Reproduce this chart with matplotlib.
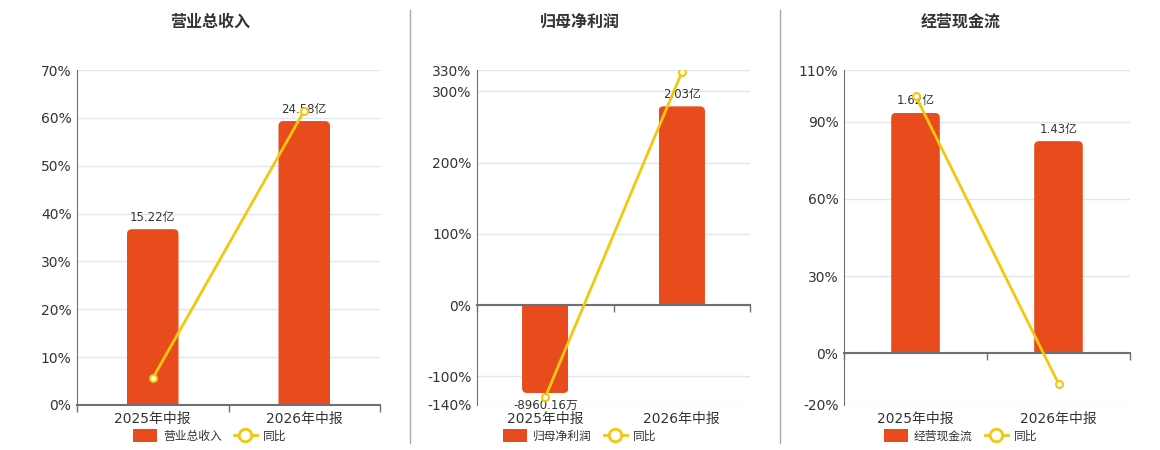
import matplotlib
matplotlib.use("Agg")
import matplotlib.pyplot as plt
from matplotlib.patches import FancyBboxPatch, Patch
from matplotlib.lines import Line2D

plt.rcParams['font.family'] = ['DejaVu Sans', 'Noto Sans CJK SC']

# ---------------- data ----------------
categories = ['2025年中报', '2026年中报']

titles = ['营业总收入', '归母净利润', '经营现金流']

revenue = [15.22, 24.58]          # 亿
revenue_labels = ['15.22亿', '24.58亿']
revenue_yoy = [5.6, 61.5]         # %

profit = [-0.896016, 2.03]        # 亿
profit_labels = ['-8960.16万', '2.03亿']
profit_yoy = [-129.0, 326.6]

cashflow = [1.62, 1.43]           # 亿
cashflow_labels = ['1.62亿', '1.43亿']
cashflow_yoy = [100.0, -11.7]

yticks_list = [
    [0, 10, 20, 30, 40, 50, 60, 70],
    [-140, -100, 0, 100, 200, 300, 330],
    [-20, 0, 30, 60, 90, 110],
]
yoy_name = '同比'

# ---------------- style ----------------
BAR_C = '#E84C1D'
LINE_C = '#F2C80F'
GRID_C = '#E0E6F1'
AXIS_C = '#6E7079'
TEXT_C = '#333333'
W, H = 1160, 450

# pixel layout of each panel: left, right, top, bottom
panels_px = [(77, 380, 70, 405), (477, 750, 70, 405), (844, 1130, 70, 405)]
title_cx = [210, 580, 961]
# span of hidden bar axis (亿) over the plot height
bar_span = [29.0, 3.42, 2.256]

fig = plt.figure(figsize=(W / 100, H / 100), dpi=100)

series = [
    (revenue, revenue_labels, revenue_yoy),
    (profit, profit_labels, profit_yoy),
    (cashflow, cashflow_labels, cashflow_yoy),
]

xs = list(range(len(categories)))

for i, ((vals, labs, yoy), (l, r, t, b)) in enumerate(zip(series, panels_px)):
    rect = [l / W, 1 - b / H, (r - l) / W, (b - t) / H]
    ax = fig.add_axes(rect)
    yt = yticks_list[i]
    ymin, ymax = yt[0], yt[-1]
    ax.set_ylim(ymin, ymax)
    ax.set_xlim(-0.5, len(categories) - 0.5)
    ax.set_yticks(yt)
    ax.set_yticklabels([f'{v}%' for v in yt])
    ax.set_xticks(xs)
    ax.set_xticklabels(categories)
    ax.set_xticks([k - 0.5 for k in range(len(categories) + 1)], minor=True)
    ax.grid(axis='y', color=GRID_C, linewidth=1)
    ax.set_axisbelow(True)
    for s in ['top', 'right', 'bottom']:
        ax.spines[s].set_visible(False)
    ax.spines['left'].set_color(AXIS_C)
    ax.tick_params(axis='y', length=0, pad=4, labelsize=10, labelcolor=TEXT_C)
    ax.tick_params(axis='x', which='both', length=0, pad=5, labelsize=10, labelcolor=TEXT_C)

    # hidden bar axis, zero aligned with percent axis
    bax = ax.twinx()
    f0 = (0 - ymin) / (ymax - ymin)
    span = bar_span[i]
    bax.set_ylim(-f0 * span, (1 - f0) * span)
    bax.axis('off')
    cont = bax.bar(xs, vals, width=0.34, color=BAR_C)
    fig.canvas.draw()
    p0 = bax.transData.transform((0, 0))
    p1 = bax.transData.transform((1, 1))
    ppx, ppy = p1[0] - p0[0], p1[1] - p0[1]
    rad_px = 5
    rx = rad_px / ppx
    ext = rad_px * 2 / ppy
    for rc in cont.patches:
        x0, y0, w, h = rc.get_x(), rc.get_y(), rc.get_width(), rc.get_height()
        lo, hi = min(y0, y0 + h), max(y0, y0 + h)
        if h >= 0:
            lo -= ext
        else:
            hi += ext
        fb = FancyBboxPatch((x0, lo), w, hi - lo,
                            boxstyle=f'round,pad=0,rounding_size={rx}',
                            mutation_aspect=ppx / ppy,
                            facecolor=BAR_C, edgecolor='none', zorder=2)
        bax.add_patch(fb)
        fb.set_clip_path(rc)
        rc.set_visible(False)
    bax.bar_label(cont, labels=labs, padding=4, fontsize=8.5, color=TEXT_C)

    # line axis (also carries the zero axis line and category ticks)
    lax = ax.twinx()
    lax.set_ylim(ymin, ymax)
    lax.set_yticks([])
    lax.xaxis.set_visible(True)
    for s in ['top', 'right', 'left']:
        lax.spines[s].set_visible(False)
    lax.spines['bottom'].set_visible(True)
    lax.spines['bottom'].set_position(('data', 0))
    lax.spines['bottom'].set_color(AXIS_C)
    lax.spines['bottom'].set_linewidth(1.5)
    lax.tick_params(axis='x', which='major', length=0, labelbottom=False)
    lax.tick_params(axis='x', which='minor', bottom=True, length=5, width=1,
                    color=AXIS_C, labelbottom=False, direction='out')
    lax.plot(xs, yoy, color=LINE_C, linewidth=2, marker='o', markersize=5,
             markerfacecolor='white', markeredgecolor=LINE_C, markeredgewidth=1.5, zorder=5)

    fig.text(title_cx[i] / W, 1 - 22 / H, titles[i], ha='center', va='center',
             fontsize=11.5, fontweight='bold', color=TEXT_C)

    handles = [Patch(facecolor=BAR_C, edgecolor='none'),
               Line2D([], [], color=LINE_C, linewidth=2, marker='o', markersize=9,
                      markerfacecolor='white', markeredgecolor=LINE_C, markeredgewidth=2)]
    fig.legend(handles, [titles[i], yoy_name], loc='center',
               bbox_to_anchor=(title_cx[i] / W, 1 - 436 / H), ncol=2, frameon=False,
               fontsize=8.5, handlelength=2.0, handleheight=1.2, columnspacing=1.0,
               handletextpad=0.5, labelcolor=TEXT_C)

for xp in [410, 780]:
    fig.add_artist(Line2D([xp / W, xp / W], [1 - 443 / H, 1 - 10 / H],
                          color='#AAAAAA', linewidth=1))

fig.savefig('out.png', dpi=100)
